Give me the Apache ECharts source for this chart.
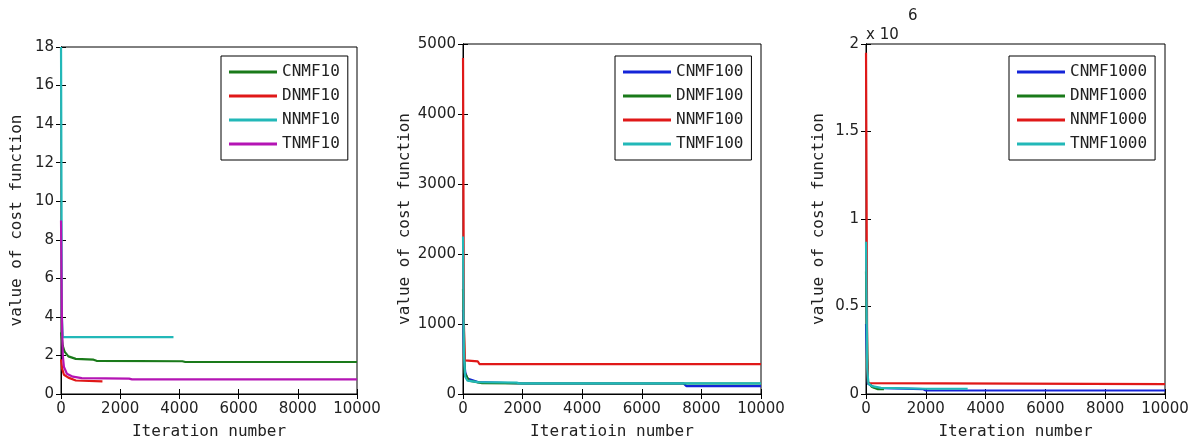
<!DOCTYPE html>
<html>
<head>
<meta charset="utf-8">
<script src="https://cdn.jsdelivr.net/npm/echarts@6/dist/echarts.min.js"></script>
<style>
  html, body { margin: 0; padding: 0; background: #fff; }
  #chart { width: 1196px; height: 445px; }
</style>
</head>
<body>
<div id="chart"></div>
<script>
// [iteration, cost] points
const cnmf10 = [[1, 3.2], [60, 2.5], [120, 2.2], [250, 1.95], [500, 1.82], [1100, 1.78], [1200, 1.72], [4100, 1.7], [4200, 1.66], [10000, 1.66]];
const dnmf10 = [[1, 1.8], [40, 1.3], [100, 1.0], [250, 0.85], [500, 0.7], [1400, 0.66]];
const nnmf10 = [[1, 18], [30, 4], [60, 2.95], [3800, 2.95]];
const tnmf10 = [[1, 9], [30, 4], [60, 2], [100, 1.4], [200, 1.05], [400, 0.9], [700, 0.82], [2300, 0.8], [2400, 0.76], [10000, 0.76]];

const cnmf100 = [[1, 1200], [40, 450], [80, 300], [150, 220], [500, 170], [2000, 150], [7400, 150], [7500, 112], [10000, 112]];
const dnmf100 = [[1, 1500], [60, 300], [200, 190], [640, 155], [2000, 150], [10000, 150]];
const nnmf100 = [[1, 4800], [30, 1000], [60, 480], [500, 465], [550, 428], [10000, 428]];
const tnmf100 = [[1, 2250], [30, 600], [70, 250], [150, 190], [500, 170], [1800, 162], [1900, 152], [10000, 152]];

const cnmf1000 = [[1, 400000], [60, 60000], [300, 35000], [1900, 28000], [2000, 20000], [10000, 20000]];
const dnmf1000 = [[1, 700000], [60, 70000], [200, 40000], [400, 28000], [600, 27000]];
const nnmf1000 = [[1, 1950000], [40, 200000], [70, 62000], [10000, 57000]];
const tnmf1000 = [[1, 870000], [40, 150000], [80, 60000], [200, 45000], [500, 35000], [2000, 30000], [3400, 30000]];

const names10 = ['CNMF10', 'DNMF10', 'NNMF10', 'TNMF10'];
const names100 = ['CNMF100', 'DNMF100', 'NNMF100', 'TNMF100'];
const names1000 = ['CNMF1000', 'DNMF1000', 'NNMF1000', 'TNMF1000'];

const yMax = [18, 5000, 2000000];
const yStep = [2, 1000, 500000];
const xNames = ['Iteration number', 'Iteratioin number', 'Iteration number'];

const BLUE = '#1424d8', GREEN = '#1a7a1a', RED = '#e01818', CYAN = '#22b8b8', MAGENTA = '#b414b4';

const mono = 'DejaVu Sans Mono';
const grids = [
  { left: 61, top: 47, width: 296, height: 347 },
  { left: 463, top: 44, width: 298, height: 350 },
  { left: 866, top: 44, width: 299, height: 350 }
];
const yNameGap = [36, 50, 39];
const legendPos = [
  { left: 221, top: 56 },
  { left: 615, top: 56 },
  { left: 1009, top: 56 }
];

const chart = echarts.init(document.getElementById('chart'));

const xAxis = [], yAxis = [];
grids.forEach((g, i) => {
  const base = {
    gridIndex: i, type: 'value', min: 0, max: 10000, interval: 2000,
    axisLine: { show: true, lineStyle: { color: '#000', width: 1 } },
    axisTick: { show: true, inside: true, length: 5, lineStyle: { color: '#000' } },
    splitLine: { show: false }
  };
  xAxis.push(Object.assign({}, base, {
    position: 'bottom',
    name: xNames[i], nameLocation: 'middle', nameGap: 30,
    nameTextStyle: { fontFamily: mono, fontSize: 16, color: '#222' },
    axisLabel: { fontFamily: 'DejaVu Sans', fontSize: 15, color: '#222', margin: 8, formatter: v => String(v) }
  }));
  xAxis.push(Object.assign({}, base, { position: 'top', axisLabel: { show: false } }));

  const ybase = {
    gridIndex: i, type: 'value', min: 0, max: yMax[i], interval: yStep[i],
    axisLine: { show: true, lineStyle: { color: '#000', width: 1 } },
    axisTick: { show: true, inside: true, length: 5, lineStyle: { color: '#000' } },
    splitLine: { show: false }
  };
  yAxis.push(Object.assign({}, ybase, {
    position: 'left',
    name: 'value of cost function', nameLocation: 'middle', nameGap: yNameGap[i],
    nameTextStyle: { fontFamily: mono, fontSize: 16, color: '#222' },
    axisLabel: {
      fontFamily: 'DejaVu Sans', fontSize: 15, color: '#222', margin: 7,
      formatter: i === 2 ? (v => String(v / 1e6)) : (v => String(v))
    }
  }));
  yAxis.push(Object.assign({}, ybase, { position: 'right', axisLabel: { show: false } }));
});

function line(name, data, color, panel) {
  return {
    name: name, type: 'line', data: data,
    xAxisIndex: panel * 2, yAxisIndex: panel * 2,
    symbol: 'none', animation: false,
    lineStyle: { color: color, width: 2.2 },
    itemStyle: { color: color }
  };
}

const series = [
  line(names10[0], cnmf10, GREEN, 0),
  line(names10[1], dnmf10, RED, 0),
  line(names10[2], nnmf10, CYAN, 0),
  line(names10[3], tnmf10, MAGENTA, 0),
  line(names100[0], cnmf100, BLUE, 1),
  line(names100[1], dnmf100, GREEN, 1),
  line(names100[2], nnmf100, RED, 1),
  line(names100[3], tnmf100, CYAN, 1),
  line(names1000[0], cnmf1000, BLUE, 2),
  line(names1000[1], dnmf1000, GREEN, 2),
  line(names1000[2], nnmf1000, RED, 2),
  line(names1000[3], tnmf1000, CYAN, 2)
];

const legend = [names10, names100, names1000].map((names, i) => ({
  data: names, orient: 'vertical',
  left: legendPos[i].left, top: legendPos[i].top,
  backgroundColor: '#fff', borderColor: '#000', borderWidth: 1,
  padding: [8, 8, 8, 8], itemGap: 8,
  icon: 'rect', itemWidth: 48, itemHeight: 3,
  selectedMode: false,
  textStyle: { fontFamily: mono, fontSize: 16, color: '#222', padding: [0, 0, 0, 0] }
}));

chart.setOption({
  backgroundColor: '#fff',
  animation: false,
  grid: grids.map(g => Object.assign({ show: true, borderColor: '#000', borderWidth: 1, backgroundColor: '#fff' }, g)),
  xAxis: xAxis,
  yAxis: yAxis,
  legend: legend,
  series: series,
  graphic: [
    { type: 'text', left: 866, top: 28, style: { text: 'x 10', fontFamily: 'DejaVu Sans', fontSize: 15, fill: '#222' } },
    { type: 'text', left: 908, top: 9, style: { text: '6', fontFamily: 'DejaVu Sans', fontSize: 15, fill: '#222' } }
  ]
});
</script>
</body>
</html>
